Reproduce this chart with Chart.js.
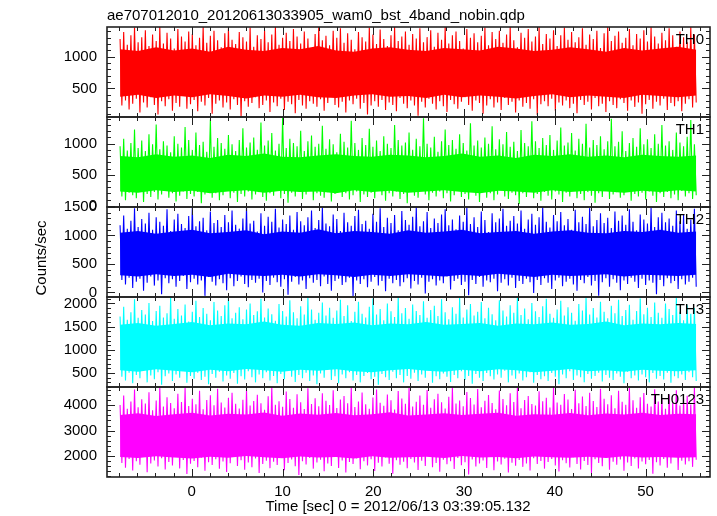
<!DOCTYPE html>
<html>
<head>
<meta charset="utf-8">
<script src="https://cdn.jsdelivr.net/npm/chart.js@4.4.0/dist/chart.umd.min.js"></script>
<style>
  html, body { margin: 0; padding: 0; background: #fff; }
  #wrap { position: relative; width: 717px; height: 516px; }
</style>
</head>
<body>
<div id="wrap"><canvas id="lc"></canvas></div>
<script>
// light curve, one panel per band
const title = 'ae707012010_20120613033905_wam0_bst_4band_nobin.qdp';
const xTitle = 'Time [sec] 0 = 2012/06/13 03:39:05.132';
const yTitle = 'Counts/sec';
const bands = ['TH0', 'TH1', 'TH2', 'TH3', 'TH0123'];
const colors = ['#ff0000', '#00ff00', '#0000ff', '#00ffff', '#ff00ff'];

// time sampling (s)
const tStart = -7.9;
const tStep = 0.199;
const tEnd = 55.58;

// axis ranges and ticks
const xMin = -9.34, xMax = 57.1;
const xTicks = [0, 10, 20, 30, 40, 50];
const yMins = [50, -20, -80, 200, 1170];
const yMaxs = [1470, 1430, 1500, 2140, 4720];
const yTicks = [
  [500, 1000],
  [0, 500, 1000],
  [0, 500, 1000, 1500],
  [500, 1000, 1500, 2000],
  [2000, 3000, 4000]
];
const yMinor = [100, 100, 100, 100, 200];

// counts/sec, alternating upper and lower excursions
const th0 = [
  1280,230, 1390,310, 1190,170, 1340,260, 1460,340, 1230,120, 1310,280, 1420,200, 1170,360, 1350,240,
  1250,90, 1470,300, 1210,220, 1380,330, 1290,150, 1130,270, 1440,210, 1320,380, 1240,180, 1400,250,
  1360,320, 1180,140, 1300,290, 1470,230, 1220,350, 1330,100, 1410,260, 1260,310, 1150,200, 1370,280,
  1450,170, 1270,330, 1200,240, 1390,60, 1310,300, 1240,210, 1460,270, 1160,360, 1340,190, 1280,240,
  1420,310, 1230,130, 1350,280, 1470,220, 1190,340, 1300,160, 1380,290, 1250,250, 1440,110, 1320,320,
  1210,230, 1400,180, 1290,300, 1140,260, 1360,210, 1470,330, 1260,150, 1330,270, 1180,380, 1410,240,
  1300,200, 1450,290, 1220,120, 1370,310, 1270,250, 1120,340, 1390,180, 1310,270, 1240,90, 1460,230,
  1350,300, 1200,210, 1430,320, 1280,160, 1170,280, 1340,240, 1470,140, 1250,350, 1320,260, 1400,190,
  1190,310, 1360,230, 1290,70, 1450,290, 1230,200, 1310,340, 1420,260, 1160,170, 1380,300, 1270,220,
  1470,130, 1210,320, 1340,250, 1400,180, 1250,290, 1130,360, 1440,240, 1300,150, 1370,310, 1230,270,
  1330,100, 1460,230, 1180,330, 1390,200, 1280,280, 1410,160, 1220,350, 1350,240, 1470,290, 1260,120,
  1150,310, 1380,210, 1300,270, 1440,180, 1240,330, 1320,80, 1470,250, 1200,300, 1360,220, 1290,340,
  1420,150, 1170,280, 1340,230, 1460,310, 1270,190, 1390,260, 1230,110, 1310,320, 1450,240, 1190,290,
  1350,170, 1280,350, 1410,220, 1140,260, 1370,130, 1470,300, 1250,240, 1330,190, 1400,330, 1220,270,
  1300,150, 1440,310, 1180,210, 1360,280, 1290,100, 1420,250, 1240,320, 1470,180, 1320,290, 1210,230,
  1380,340, 1260,160, 1450,270, 1340,220, 1160,300, 1400,140, 1310,260, 1230,330, 1470,200, 1350,280
];
const th1 = [
  960,150, 1080,90, 890,210, 1010,170, 1230,120, 930,240, 1050,60, 880,190, 1150,140, 990,220,
  1310,100, 910,180, 1040,250, 970,130, 860,200, 1120,70, 1000,160, 940,230, 1270,110, 1060,190,
  900,150, 1180,220, 980,40, 1030,180, 870,240, 1390,130, 950,200, 1090,90, 1010,170, 920,250,
  1140,120, 990,210, 880,60, 1060,190, 1250,150, 940,230, 1020,100, 1100,180, 900,220, 1340,140,
  970,80, 1050,200, 1170,160, 890,240, 1000,120, 1420,190, 930,50, 1080,210, 1010,150, 960,230,
  1210,110, 880,180, 1040,240, 1130,90, 950,200, 1000,160, 1290,130, 920,220, 1070,70, 990,190,
  860,250, 1160,140, 1030,200, 940,100, 1370,170, 1010,230, 900,60, 1090,180, 980,140, 1240,210,
  950,120, 1050,250, 880,170, 1120,80, 1000,200, 930,150, 1300,230, 1060,110, 970,190, 1020,40,
  1180,220, 900,160, 1080,130, 960,240, 1410,180, 1000,90, 940,210, 1110,150, 870,230, 1040,120,
  1230,200, 980,70, 1060,170, 920,240, 1150,140, 1010,190, 890,100, 1330,220, 970,160, 1050,60,
  940,230, 1100,130, 1000,200, 1280,90, 910,180, 1070,250, 990,150, 1190,110, 950,210, 1030,170,
  880,30, 1220,200, 1010,140, 960,240, 1360,120, 1040,190, 930,80, 1090,220, 980,160, 1140,100,
  900,230, 1050,180, 1260,60, 970,210, 1020,150, 1170,240, 890,120, 1080,190, 1000,90, 1320,220,
  940,160, 1060,50, 980,200, 1120,140, 910,250, 1040,110, 1400,180, 960,220, 1030,130, 1200,170,
  880,240, 1010,80, 1090,190, 950,150, 1250,210, 990,100, 1070,230, 930,160, 1150,60, 1000,200,
  1300,140, 970,220, 1040,120, 900,180, 1180,90, 1020,240, 960,150, 1110,200, 1380,110, 990,170
];
const th2 = [
  1180,220, 1350,140, 1120,260, 1260,80, 1480,190, 1150,240, 1290,30, 1210,170, 1400,280, 1100,120,
  1320,210, 1240,-30, 1170,250, 1460,160, 1080,230, 1280,100, 1380,200, 1200,290, 1130,60, 1340,180,
  1490,240, 1160,140, 1250,210, 1310,-60, 1090,270, 1420,190, 1220,120, 1270,230, 1150,160, 1360,40,
  1230,250, 1440,110, 1190,200, 1120,280, 1300,150, 1500,90, 1210,220, 1260,170, 1070,240, 1390,0,
  1170,200, 1330,130, 1240,260, 1470,180, 1140,100, 1280,230, 1200,-40, 1350,190, 1100,270, 1410,140,
  1250,210, 1180,60, 1320,250, 1440,170, 1130,220, 1270,110, 1490,280, 1210,150, 1160,30, 1370,200,
  1290,240, 1080,130, 1400,180, 1230,260, 1170,-70, 1340,210, 1450,150, 1200,230, 1260,90, 1120,190,
  1380,270, 1240,120, 1480,200, 1150,20, 1310,240, 1220,160, 1360,220, 1090,110, 1430,180, 1270,250,
  1190,70, 1330,200, 1500,140, 1160,260, 1250,-20, 1410,190, 1130,230, 1300,120, 1220,210, 1370,160,
  1460,280, 1180,50, 1280,200, 1110,240, 1350,130, 1240,190, 1490,-50, 1200,220, 1320,150, 1150,270,
  1420,100, 1270,210, 1060,180, 1390,240, 1230,20, 1300,170, 1470,230, 1170,120, 1260,260, 1340,80,
  1210,200, 1440,150, 1120,240, 1280,180, 1380,-10, 1190,220, 1320,130, 1500,250, 1240,170, 1140,60,
  1360,210, 1250,260, 1410,110, 1180,190, 1290,240, 1100,140, 1450,30, 1230,220, 1330,160, 1200,270,
  1480,120, 1160,200, 1270,-60, 1390,180, 1220,250, 1310,100, 1130,230, 1420,170, 1260,40, 1350,210,
  1190,150, 1460,260, 1240,190, 1090,80, 1370,240, 1280,130, 1210,210, 1490,170, 1150,-30, 1320,220,
  1400,110, 1230,250, 1300,160, 1170,200, 1440,60, 1250,230, 1360,140, 1120,190, 1280,260, 1470,100
];
const th3 = [
  1720,420, 1930,340, 1650,510, 1810,280, 2090,460, 1690,390, 1860,560, 1760,300, 2010,450, 1620,370,
  1840,520, 1950,250, 1700,430, 1790,490, 2120,330, 1670,470, 1880,400, 1740,560, 1980,290, 1610,440,
  1820,380, 2060,510, 1710,350, 1900,420, 1780,260, 1640,480, 2030,400, 1850,530, 1730,320, 1960,450,
  2140,380, 1680,500, 1800,270, 1920,430, 1660,360, 1870,540, 2000,410, 1750,300, 1830,470, 2100,390,
  1700,520, 1890,340, 1770,440, 1630,280, 1990,480, 1840,370, 1720,550, 2070,420, 1810,310, 1680,460,
  1940,390, 1760,510, 2130,330, 1870,450, 1650,260, 1800,490, 2020,400, 1740,570, 1910,350, 1690,430,
  1850,280, 2080,470, 1730,390, 1960,520, 1620,340, 1820,460, 2040,300, 1780,440, 1700,500, 1930,370,
  2110,420, 1760,250, 1880,480, 1640,410, 2000,350, 1830,530, 1710,390, 2140,460, 1790,300, 1900,440,
  1670,380, 1980,510, 1840,330, 1750,470, 2050,400, 1690,560, 1860,290, 1950,430, 1730,370, 2090,490,
  1810,420, 1660,310, 1920,460, 1780,390, 2120,540, 1700,350, 1870,440, 1990,270, 1740,480, 1820,400,
  2030,330, 1680,500, 1910,430, 1770,360, 1640,470, 2070,400, 1850,550, 1720,300, 1960,450, 1800,380,
  2140,490, 1750,340, 1890,410, 1660,520, 2010,290, 1830,460, 1710,370, 1940,430, 2100,330, 1780,500,
  1690,420, 1870,260, 2060,470, 1740,390, 1920,540, 1800,350, 1630,450, 1990,410, 1850,300, 2130,480,
  1760,380, 1900,440, 1700,510, 2040,320, 1820,460, 1680,400, 1950,350, 1790,490, 2080,420, 1730,280,
  1860,530, 1970,390, 1650,450, 1840,340, 2110,470, 1770,410, 1910,300, 1710,500, 2020,380, 1800,440,
  1690,360, 2000,510, 1880,290, 1750,430, 2130,390, 1820,470, 1640,350, 1960,520, 1780,410, 1900,330
];
const th0123 = [
  4010,1720, 4380,1540, 3860,1880, 4150,1430, 4620,1790, 3920,1650, 4240,1980, 4070,1360, 4510,1700, 3800,1820,
  4190,1580, 4680,1910, 3950,1470, 4320,1760, 4090,1620, 3880,2010, 4450,1510, 4130,1840, 4700,1290, 3970,1690,
  4260,1800, 4040,1560, 4570,1930, 3840,1420, 4210,1750, 4390,1640, 4000,1870, 4650,1500, 4110,1780, 3910,1370,
  4300,1710, 4490,1990, 4060,1600, 3870,1830, 4220,1460, 4610,1740, 3990,1560, 4170,1900, 4410,1330, 4080,1680,
  3820,1810, 4350,1520, 4720,1770, 4020,1640, 4160,1950, 3940,1440, 4540,1720, 4250,1860, 3900,1590, 4430,1250,
  4120,1790, 3850,1660, 4670,1920, 4050,1500, 4280,1740, 3960,1850, 4470,1400, 4180,1700, 4010,1600, 4590,1960,
  3890,1530, 4230,1820, 4360,1350, 4080,1760, 4700,1680, 3930,1900, 4150,1480, 4500,1790, 4040,1620, 3860,1870,
  4310,1410, 4620,1730, 4100,1580, 3980,1940, 4420,1690, 4200,1300, 3830,1830, 4560,1650, 4270,1770, 4060,1520,
  4690,1880, 3950,1740, 4140,1450, 4380,1810, 4020,1600, 4600,1990, 3900,1560, 4240,1720, 4450,1380, 4120,1850,
  3870,1670, 4330,1790, 4710,1490, 4070,1920, 4190,1630, 3960,1750, 4520,1270, 4290,1860, 4030,1580, 4640,1700,
  3920,1820, 4180,1530, 4400,1960, 4090,1440, 3840,1780, 4580,1660, 4250,1890, 4000,1350, 4470,1730, 4130,1610,
  4680,1840, 3880,1570, 4210,1700, 4360,1430, 4050,1910, 3990,1680, 4550,1800, 4160,1500, 4300,1760, 3910,1880,
  4720,1620, 4110,1390, 4020,1830, 4440,1710, 4230,1550, 3850,1950, 4610,1680, 4080,1470, 4340,1800, 3970,1640,
  4490,1330, 4170,1870, 3930,1720, 4650,1590, 4260,1930, 4040,1460, 4390,1770, 3880,1650, 4570,1860, 4140,1420,
  4020,1740, 4700,1600, 4200,1900, 3900,1510, 4320,1780, 4480,1670, 4060,1840, 3950,1300, 4630,1750, 4150,1620,
  4280,1880, 3860,1540, 4420,1700, 4100,1960, 4590,1450, 3990,1810, 4240,1660, 4370,1790, 4030,1570, 4690,1850
];
const series = [th0, th1, th2, th3, th0123];

// edges of the solid core of each band, ~2 s apart
const coreHi = [
  [1120,1090,1150,1100,1130,1080,1160,1110,1090,1140,1120,1170,1100,1080,1130,1150,1110,1090,1140,1120,1100,1160,1130,1090,1110,1150,1120,1080,1140,1100,1130,1160,1110],
  [800,780,830,790,810,770,820,800,840,790,780,810,830,800,790,820,810,780,800,840,790,810,770,820,800,830,790,810,780,820,800,790,810],
  [1050,1080,1030,1070,1100,1040,1060,1090,1020,1070,1050,1110,1040,1080,1060,1030,1090,1050,1070,1100,1040,1060,1080,1030,1070,1090,1050,1040,1080,1060,1100,1050,1070],
  [1540,1580,1520,1560,1600,1530,1570,1550,1610,1540,1520,1580,1560,1590,1530,1570,1550,1600,1540,1560,1580,1520,1570,1550,1590,1540,1560,1610,1530,1570,1550,1580,1560],
  [3620,3680,3580,3650,3700,3600,3660,3640,3710,3590,3670,3630,3690,3610,3650,3720,3600,3640,3680,3620,3660,3700,3590,3650,3630,3690,3610,3670,3640,3700,3620,3660,3650]
];
const coreLo = [
  [370,400,350,390,360,410,380,340,390,370,400,360,350,390,410,370,380,350,400,360,390,370,340,380,410,360,390,370,350,400,380,360,390],
  [230,210,250,220,240,200,230,250,210,240,220,230,200,250,220,240,210,230,250,220,200,240,230,210,250,220,240,230,210,240,220,250,230],
  [300,280,320,290,310,270,330,300,290,310,280,320,300,270,310,290,320,300,280,310,290,330,300,270,310,290,300,320,280,310,300,290,310],
  [560,530,580,550,520,570,540,590,560,530,570,550,580,540,520,560,590,550,530,570,540,580,560,520,550,590,540,560,530,570,550,540,560],
  [1960,1920,1990,1940,1900,1970,1930,2000,1950,1910,1980,1940,1960,1900,1990,1930,1950,1970,1920,2000,1940,1960,1910,1980,1950,1930,1970,1920,1990,1940,1960,1930,1950]
];

const FONT = '"Liberation Sans", Arial, Helvetica, sans-serif';

function toPoints(vals, t0, dt) {
  return vals.map((v, i) => ({ x: t0 + i * dt, y: v }));
}

const datasets = [];
series.forEach((vals, i) => {
  const coreStep = (tEnd - tStart) / (coreHi[i].length - 1);
  datasets.push({
    label: bands[i],
    data: toPoints(vals, tStart, tStep),
    yAxisID: 'y' + i,
    borderColor: colors[i],
    borderWidth: 1.1,
    pointRadius: 0,
    tension: 0,
    fill: false,
    order: 0
  });
  datasets.push({
    label: bands[i] + ' core hi',
    data: toPoints(coreHi[i], tStart, coreStep),
    yAxisID: 'y' + i,
    borderColor: colors[i],
    backgroundColor: colors[i],
    borderWidth: 0,
    pointRadius: 0,
    tension: 0,
    fill: '+1',
    order: 1
  });
  datasets.push({
    label: bands[i] + ' core lo',
    data: toPoints(coreLo[i], tStart, coreStep),
    yAxisID: 'y' + i,
    borderColor: colors[i],
    borderWidth: 0,
    pointRadius: 0,
    tension: 0,
    fill: false,
    order: 1
  });
});

const tickFont = { family: FONT, size: 15 };

const scales = {
  x: {
    type: 'linear',
    min: xMin,
    max: xMax,
    position: 'bottom',
    grid: { display: false, drawTicks: false },
    border: { display: false },
    afterBuildTicks: s => { s.ticks = xTicks.map(v => ({ value: v })); },
    afterFit: s => { s.height = 39; },
    ticks: { color: '#000', font: tickFont, padding: 6, maxRotation: 0, autoSkip: false,
             callback: v => String(v) }
  }
};
bands.forEach((b, i) => {
  scales['y' + i] = {
    type: 'linear',
    position: 'left',
    stack: 'panels',
    stackWeight: 1,
    weight: bands.length - i,
    min: yMins[i],
    max: yMaxs[i],
    offset: false,
    grid: { display: false, drawTicks: false },
    border: { display: false },
    afterBuildTicks: s => { s.ticks = yTicks[i].map(v => ({ value: v })); },
    afterFit: s => { s.width = 107; },
    ticks: { color: '#000', font: tickFont, padding: 10, autoSkip: false,
             callback: v => String(v) }
  };
});

// frames, inward tick marks and the texts
const framePlugin = {
  id: 'frames',
  afterDraw(chart) {
    const ctx = chart.ctx;
    const area = chart.chartArea;
    const xs = chart.scales.x;
    ctx.save();
    ctx.strokeStyle = '#222';
    bands.forEach((b, i) => {
      const ys = chart.scales['y' + i];
      const top = ys.top, bot = ys.bottom;
      ctx.lineWidth = 1;
      ctx.beginPath();
      // x ticks on top and bottom of the panel
      for (let t = -8; t <= 56; t += 2) {
        const px = Math.round(xs.getPixelForValue(t)) + 0.5;
        const len = t % 10 === 0 ? 8 : 4;
        ctx.moveTo(px, top); ctx.lineTo(px, top + len);
        ctx.moveTo(px, bot); ctx.lineTo(px, bot - len);
      }
      // y ticks on left and right
      const step = yMinor[i];
      for (let v = Math.ceil(yMins[i] / step) * step; v <= yMaxs[i]; v += step) {
        const py = Math.round(ys.getPixelForValue(v)) + 0.5;
        const len = yTicks[i].includes(v) ? 8 : 4;
        ctx.moveTo(area.left, py); ctx.lineTo(area.left + len, py);
        ctx.moveTo(area.right, py); ctx.lineTo(area.right - len, py);
      }
      ctx.stroke();
      ctx.lineWidth = 1.6;
      ctx.strokeRect(area.left, top, area.right - area.left, bot - top);
      // band name
      ctx.fillStyle = '#000';
      ctx.font = '15px ' + FONT;
      ctx.textAlign = 'right';
      ctx.textBaseline = 'alphabetic';
      ctx.fillText(b, 704, top + 17);
    });
    ctx.fillStyle = '#000';
    ctx.font = '15px ' + FONT;
    ctx.textAlign = 'left';
    ctx.fillText(title, 107, 20);
    ctx.textAlign = 'center';
    ctx.fillText(xTitle, 398, 511);
    ctx.translate(46, 258);
    ctx.rotate(-Math.PI / 2);
    ctx.fillText(yTitle, 0, 0);
    ctx.restore();
  }
};

new Chart(document.getElementById('lc'), {
  type: 'line',
  data: { datasets },
  options: {
    responsive: true,
    maintainAspectRatio: false,
    animation: false,
    layout: { padding: { top: 27, right: 7, left: 0, bottom: 0 } },
    plugins: { legend: { display: false }, tooltip: { enabled: false } },
    scales
  },
  plugins: [framePlugin]
});
</script>
</body>
</html>
